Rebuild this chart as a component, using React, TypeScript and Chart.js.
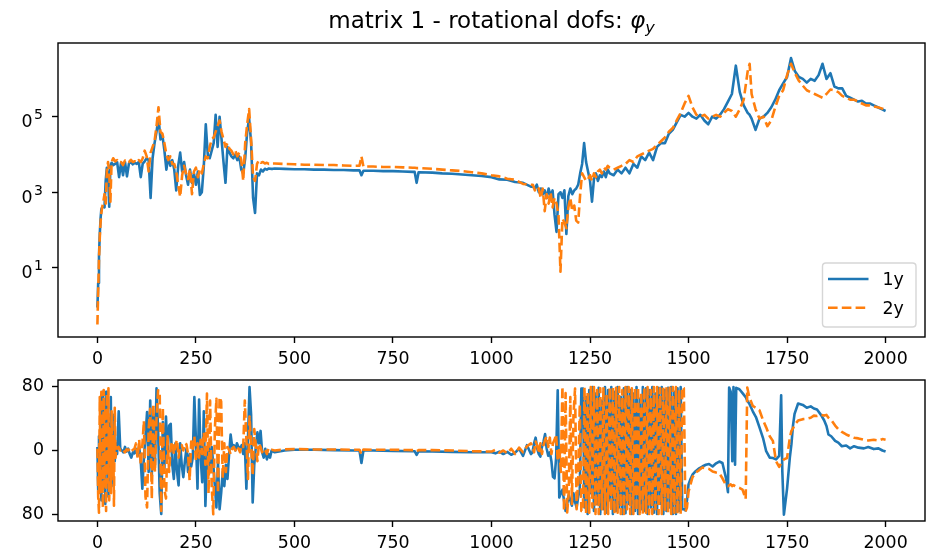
import React, { useEffect, useRef } from "react";
import { Chart, registerables } from "chart.js";

Chart.register(...registerables);

// ---------- styling constants ----------
const FONT_FAMILY = '"DejaVu Sans", "Liberation Sans", sans-serif';
const TICK_FONT = 17.4;
const SUP_FONT = 14;
const TITLE_FONT = 23;
const BLUE = "#1f77b4";
const ORANGE = "#ff7f0e";
const LINE_W = 2.6;
const DASH = [9.6, 4.2];

// ---------- labels / ticks ----------
const titleMain = "matrix 1 - rotational dofs: ";
const titleSymbol = "φ";
const titleSub = "y";
const seriesLabels = ["1y", "2y"];
const xTicks = [0, 250, 500, 750, 1000, 1250, 1500, 1750, 2000];
const xRange = [-100, 2100];
const magTickExps = [1, 3, 5];
const magRangeExp = [-0.83, 6.95];
const phaseTicks = [-180, 0, 180];
const phaseRange = [-198, 198];

// ---------- magnitude (values are log10 exponents) ----------
const magFreqA = [0, 2, 4, 6, 8, 10, 12, 15, 18, 21, 24, 27, 30, 33, 36, 40];
const mag1yA = [-0.05, 0.6, 1.3, 1.9, 2.3, 2.55, 2.6, 2.62, 2.6, 3.3, 3.65, 3.5, 2.62, 3.7, 3.78, 3.72];
const mag2yA = [-0.5, 0.4, 1.2, 1.8, 2.2, 2.45, 2.6, 2.75, 2.95, 2.7, 3.55, 3.8, 3.5, 2.75, 3.8, 3.9];

const magFreqB = [
  45, 50, 55, 60, 65, 70, 75, 80, 85, 90,
  95, 100, 105, 110, 115, 120, 125, 130, 135, 140,
  145, 150, 155, 160, 165, 170, 175, 180, 185, 190,
  195, 200, 205, 210, 215, 220, 225, 230, 235, 240,
  245, 250, 255, 260, 265, 270, 275, 280, 285, 290,
  295, 300, 305, 310, 315, 320, 325, 330, 335, 340,
  345, 350, 355, 360, 365, 370, 375, 380, 385, 390,
  395, 400, 405, 410, 415, 420, 425, 430, 435, 440,
  445, 450,
];
const mag1yB = [
  3.75, 3.8, 3.4, 3.78, 3.45, 3.8, 3.42, 3.76, 3.8, 3.74,
  3.78, 3.75, 3.8, 3.4, 3.76, 3.82, 3.9, 3.85, 2.85, 3.9,
  4.3, 4.6, 4.98, 4.4, 4.5, 4.1, 3.6, 3.95, 3.7, 3.85,
  3.6, 3.05, 3.7, 4.05, 3.55, 3.8, 3.45, 3.2, 3.6, 3.25,
  3.5, 3.2, 3.55, 2.93, 3.0, 3.7, 4.8, 4.0, 3.9, 4.1,
  4.3, 5.05, 4.2, 5.0, 4.4, 3.8, 3.25, 4.2, 4.05, 3.95,
  3.9, 4.0, 3.85, 3.95, 3.6, 3.5, 3.9, 4.6, 4.95, 4.3,
  2.85, 2.45, 3.5, 3.45, 3.6, 3.55, 3.62, 3.6, 3.63, 3.62,
  3.62, 3.63,
];
const mag2yB = [
  3.82, 3.85, 3.78, 3.8, 3.72, 3.84, 3.78, 3.8, 3.86, 3.8,
  3.82, 3.78, 3.85, 3.8, 3.9, 4.1, 3.95, 3.55, 4.05, 4.2,
  4.35, 4.75, 5.25, 4.6, 4.55, 4.3, 4.0, 3.85, 3.95, 3.75,
  3.75, 3.55, 3.2, 2.88, 3.45, 3.7, 3.5, 3.35, 3.6, 2.95,
  3.55, 3.65, 3.4, 3.6, 3.5, 3.75, 3.95, 3.9, 4.2, 4.4,
  4.45, 4.6, 4.75, 4.9, 4.6, 4.4, 4.2, 4.3, 4.15, 4.1,
  4.0, 4.1, 3.95, 4.05, 3.85, 3.3, 4.3, 4.8, 5.2, 4.4,
  3.4, 3.3, 3.75, 3.85, 3.78, 3.8, 3.76, 3.78, 3.75, 3.77,
  3.76, 3.76,
];

const magFreqC = [475, 500, 525, 550, 575, 600, 625, 650, 665, 670, 675, 700, 725, 750, 775, 800, 805, 810, 815, 850, 875, 900, 925, 950, 975, 1000, 1020, 1040, 1060, 1080, 1100];
const mag1yC = [3.62, 3.61, 3.61, 3.6, 3.6, 3.59, 3.59, 3.58, 3.58, 3.45, 3.57, 3.57, 3.56, 3.56, 3.55, 3.54, 3.54, 3.25, 3.53, 3.52, 3.5, 3.49, 3.47, 3.45, 3.43, 3.4, 3.34, 3.33, 3.27, 3.25, 3.15];
const mag2yC = [3.75, 3.74, 3.73, 3.73, 3.72, 3.72, 3.71, 3.7, 3.7, 3.95, 3.68, 3.68, 3.67, 3.67, 3.66, 3.65, 3.65, 3.64, 3.64, 3.62, 3.6, 3.58, 3.56, 3.53, 3.5, 3.45, 3.42, 3.36, 3.33, 3.22, 3.2];

const magFreqD = [
  1105, 1110, 1115, 1120, 1125, 1130, 1135, 1140, 1145, 1150,
  1155, 1160, 1165, 1170, 1175, 1180, 1185, 1190, 1195, 1200,
  1205, 1210, 1215, 1220, 1225, 1230, 1235, 1240, 1245, 1250,
  1255, 1260, 1265, 1270, 1275, 1280, 1285, 1290, 1295, 1300,
];
const mag1yD = [
  3.15, 3.1, 3.2, 3.0, 3.1, 2.95, 3.05, 2.85, 3.1, 2.9,
  3.05, 2.4, 1.95, 2.95, 3.0, 2.85, 3.05, 1.9, 2.9, 3.1,
  2.95, 3.05, 3.1, 3.2, 3.5, 3.75, 4.3, 3.8, 3.55, 3.3,
  2.75, 3.35, 3.5, 3.3, 3.45, 3.4, 3.55, 3.4, 3.6, 3.5,
];
const mag2yD = [
  3.2, 3.05, 3.15, 3.1, 2.85, 3.1, 2.5, 2.95, 2.7, 3.0,
  2.6, 2.85, 2.7, 2.4, 0.9, 2.3, 2.2, 2.05, 2.6, 2.85,
  2.5, 2.65, 2.25, 2.2, 2.95, 3.5, 3.4, 3.3, 3.35, 3.45,
  3.3, 3.5, 3.4, 3.55, 3.6, 3.5, 3.65, 3.6, 3.7, 3.65,
];

const magFreqE = [
  1310, 1320, 1330, 1340, 1350, 1360, 1370, 1380, 1390, 1400,
  1410, 1420, 1430, 1440, 1450, 1460, 1470, 1480, 1490, 1500,
  1510, 1520, 1530, 1540, 1550, 1560, 1570, 1580, 1590, 1600,
  1610, 1620, 1630, 1640, 1650, 1655,
  1660, 1670, 1680, 1690, 1700, 1710, 1720, 1730, 1740, 1750,
  1760, 1770, 1780, 1790, 1800, 1810, 1820, 1830, 1840, 1850,
  1860, 1870, 1880, 1890, 1900, 1910, 1920, 1930, 1940, 1950,
  1960, 1970, 1980, 1990, 2000,
];
const mag1yE = [
  3.45, 3.6, 3.5, 3.65, 3.5, 3.75, 3.65, 3.95, 3.85, 4.05,
  3.85, 4.2, 4.3, 4.3, 4.55, 4.65, 4.85, 5.05, 5.0, 5.1,
  5.0, 4.95, 5.05, 4.9, 4.8, 5.0, 4.95, 5.05, 5.2, 5.4,
  5.6, 6.35, 5.65, 5.3, 5.1, 5.05,
  4.95, 4.65, 4.95, 5.0, 5.1, 5.25, 5.45, 5.7, 5.88, 6.05,
  6.55, 6.2, 6.05, 6.0, 5.9, 6.0, 5.95, 6.1, 6.4, 6.0,
  6.15, 5.8, 5.75, 5.75, 5.55, 5.5, 5.45, 5.4, 5.42, 5.35,
  5.35, 5.3, 5.25, 5.2, 5.15,
];
const mag2yE = [
  3.6, 3.65, 3.7, 3.75, 3.85, 3.8, 3.95, 4.0, 4.05, 4.1,
  4.15, 4.25, 4.35, 4.45, 4.6, 4.7, 4.9, 5.1, 5.35, 5.55,
  5.25, 5.05, 5.0, 5.05, 4.95, 5.0, 5.05, 5.0, 5.1, 5.2,
  5.15, 5.0, 5.2, 5.45, 6.2, 6.4,
  5.6, 5.2, 4.95, 5.0, 4.75, 4.9, 5.25, 5.55, 5.7, 6.1,
  6.4, 6.15, 5.95, 5.82, 5.7, 5.65, 5.6, 5.55, 5.5, 5.6,
  5.72, 5.7, 5.65, 5.55, 5.5, 5.45, 5.45, 5.4, 5.35, 5.3,
  5.3, 5.27, 5.25, 5.22, 5.18,
];

// ---------- phase (degrees) ----------
const phaseFreqA = [0, 2, 4, 6, 8, 10, 12, 14, 16, 18, 20, 22, 24, 26, 28, 30, 32, 34, 36, 38, 40, 42, 44, 46, 48, 50];
const phase1yA = [10, -110, 40, -80, 150, -140, 60, 165, -90, 120, -150, 165, -60, 140, -130, 90, -40, 150, -100, 60, -20, 100, -30, 20, 0, -10];
const phase2yA = [5, -130, -175, 150, -120, 165, -60, -160, 170, -100, 120, -170, 160, -90, 175, -140, 60, -120, 110, -70, 40, -155, 120, -20, 10, 5];

const phaseFreqB = [
  54, 58, 62, 66, 70, 74, 78, 82, 86, 90,
  94, 98, 102, 106, 110, 114, 118, 122, 126, 130,
  134, 138, 142, 146, 150, 154, 158, 162, 166, 170,
  174, 178, 182, 186, 190, 194, 198, 202, 206, 210,
  214, 218, 222, 226, 230, 234, 238, 242, 246, 250,
  254, 258, 262, 266, 270, 274, 278, 282, 286, 290,
  294, 298, 302, 306, 310, 314, 318, 322, 326, 330,
  334, 338, 342, 346, 350, 354, 358, 362, 366, 370,
  374, 378, 382, 386, 390, 394, 398, 402, 406, 410,
  414, 418, 422, 426, 430, 434, 438, 442,
];
const phase1yB = [
  110, 5, 0, -5, 10, -3, 5, -10, -20, -5,
  -8, 5, -15, 10, -30, -107, -20, 40, 108, -60,
  140, -70, 100, -40, 175, 60, -120, -178, 80, -50,
  95, -20, 70, 75, -40, -80, 20, -59, -98, 20,
  -40, -75, -30, 5, -60, -10, -45, -20, 150, 30,
  -107, 143, -20, -89, 110, -156, -30, 20, -60, 10,
  -40, -100, -160, -30, -165, -120, -60, -100, -40, -80,
  -12, 45, 10, 15, 0, 20, 10, 5, 15, -10,
  20, -107, 30, 178, 100, -146, -40, 10, 51, 20,
  55, -5, -20, 5, -25, -10, -20, 0,
];
const phase2yB = [
  10, 0, 5, 0, -5, 3, 0, 5, -3, 2,
  5, 20, -20, 30, -40, 15, 83, -130, -160, 60,
  117, -136, 130, -60, 90, 169, 165, -170, 120, -110,
  -135, 40, -60, 10, 25, -10, 15, 30, -20, 10,
  15, 0, 20, 17, -10, -84, 25, 5, 40, -30,
  20, -20, 30, -10, 50, -40, 160, -120, 140, -100,
  -179, 60, 145, -120, 150, 138, -78, 20, -60, 10,
  2, -10, 5, 10, 0, 12, 5, -5, 15, 10,
  140, 30, -80, 95, 17, -70, 60, 14, -30, 20,
  10, -5, 5, 0, -10, 5, 0, 2,
];

const phaseFreqC = [450, 475, 500, 550, 600, 650, 665, 670, 675, 700, 750, 800, 805, 810, 815, 850, 900, 950, 1000, 1010, 1020, 1030, 1040, 1050, 1060, 1070, 1080, 1090, 1100];
const phase1yC = [-5, 0, 2, 2, 1, 0, 0, -35, 0, 0, -1, -2, -2, -12, -2, -3, -4, -5, -5, -8, -3, -10, -4, -12, -6, 5, -15, 15, -10];
const phase2yC = [0, 3, 4, 3, 3, 2, 2, -10, 3, 2, 2, 1, 1, -2, 1, 1, 0, -2, -3, 2, -6, 0, -8, 5, -10, 8, -5, 12, 20];

const phaseFreqD = [
  1104, 1108, 1112, 1116, 1120, 1124, 1128, 1132, 1136, 1140,
  1144, 1148, 1152, 1156, 1160, 1164, 1168, 1172, 1176, 1180,
  1184, 1188, 1192, 1196, 1200, 1204, 1208, 1212, 1216, 1220,
  1224, 1228,
];
const phase1yD = [
  -5, 20, 36, 5, -10, -17, 10, 25, 46, 5,
  -15, -5, -30, -74, -78, -20, 169, -132, -120, -110,
  -140, -170, -150, -125, -140, -155, -120, -145, -160, -130,
  -110, 174,
];
const phase2yD = [
  10, -5, 25, 15, -8, 20, -10, 15, 30, 40,
  10, 36, -10, 20, 30, 45, -30, 10, -60, 180,
  -170, 161, -174, -120, 150, -150, 100, 174, -165, -80,
  130, -170,
];

const phaseFreqE = [
  1232, 1236, 1240, 1244, 1248, 1252, 1256, 1260, 1264, 1268,
  1272, 1276, 1280, 1284, 1288, 1292, 1296, 1300, 1304, 1308,
  1312, 1316, 1320, 1324, 1328, 1332, 1336, 1340, 1344, 1348,
  1352, 1356, 1360, 1364, 1368, 1372, 1376, 1380, 1384, 1388,
  1392, 1396, 1400, 1404, 1408, 1412, 1416, 1420, 1424, 1428,
  1432, 1436, 1440, 1444, 1448, 1452, 1456, 1460, 1464, 1468,
  1472, 1476, 1480, 1484, 1488,
];
const phase1yE = [
  174, -160, 150, -178, 170, -120, 178, -170, 160, -150,
  176, -178, 140, -165, 178, -175, 170, -140, 178, -178,
  165, -170, 178, -160, 150, -178, 175, -176, 178, -150,
  170, -178, 160, -170, 178, -178, 145, -165, 178, -170,
  175, -178, 170, -160, 178, -175, 160, -178, 176, -150,
  178, -178, 170, -170, 176, -160, 178, -178, 165, -178,
  175, -170, 178, -165, -165,
];
const phase2yE = [
  -170, 178, -178, 165, -175, 178, -160, 178, -178, 170,
  -178, 175, -165, 178, -178, 160, -178, 178, -170, 178,
  -178, 176, -175, 178, -178, 170, -178, 178, -165, 178,
  -178, 175, -178, 178, -170, 178, -178, 165, -178, 178,
  -175, 178, -178, 170, -178, 178, -165, 178, -178, 175,
  -178, 178, -170, 178, -178, 176, -178, 178, -175, 178,
  -178, 170, -178, 178, 175,
];

const phaseFreqF = [
  1492, 1496, 1500, 1505, 1510, 1518, 1527, 1535, 1544, 1552,
  1561, 1570, 1578, 1586, 1595, 1600, 1603, 1607, 1611, 1614,
  1618, 1621, 1629, 1637, 1645, 1649, 1654, 1663, 1671, 1680,
  1689, 1697, 1706, 1714, 1722, 1730, 1735, 1738, 1742, 1750,
  1757, 1761, 1765, 1769, 1778, 1790, 1800, 1810, 1818, 1826,
  1836, 1844, 1850, 1855, 1862, 1872, 1880, 1889, 1900, 1910,
  1920, 1931, 1945, 1956, 1970, 1982, 1992, 2000,
];
const phase1yF = [
  -168, -140, -95, -80, -68, -58, -50, -45, -40, -38,
  -45, -36, -31, -35, -78, -117, 177, 165, -30, 178,
  -40, 176, 172, 161, 150, 140, 132, 110, 94, 65,
  35, -2, -20, -21, -25, -15, 155, -60, -180, -107,
  -20, 17, 70, 103, 132, 128, 120, 124, 118, 115,
  100, 85, 69, 45, 40, 27, 22, 12, 14, 6,
  12, 8, 6, 10, 4, 6, 0, -3,
];
const phase2yF = [
  -172, -160, -115, -95, -75, -62, -55, -48, -50, -52,
  -59, -62, -64, -78, -97, -100, -98, -95, -100, -97,
  -100, -102, -105, -110, -136, 177, 151, 125, 120, 113,
  85, 65, 40, 27, -30, -46, -35, -30, -25, -21,
  36, 55, 62, 72, 84, 88, 89, 92, 98, 97,
  100, 98, 100, 92, 86, 70, 60, 52, 45, 40,
  36, 34, 30, 28, 30, 28, 32, 30,
];

// ---------- assemble ----------
const magFreq = [...magFreqA, ...magFreqB, ...magFreqC, ...magFreqD, ...magFreqE];
const mag1y = [...mag1yA, ...mag1yB, ...mag1yC, ...mag1yD, ...mag1yE];
const mag2y = [...mag2yA, ...mag2yB, ...mag2yC, ...mag2yD, ...mag2yE];
const phaseFreq = [...phaseFreqA, ...phaseFreqB, ...phaseFreqC, ...phaseFreqD, ...phaseFreqE, ...phaseFreqF];
const phase1y = [...phase1yA, ...phase1yB, ...phase1yC, ...phase1yD, ...phase1yE, ...phase1yF];
const phase2y = [...phase2yA, ...phase2yB, ...phase2yC, ...phase2yD, ...phase2yE, ...phase2yF];

const toPoints = (xs: number[], ys: number[], f: (v: number) => number = (v) => v) =>
  xs.map((x, i) => ({ x, y: f(ys[i]) }));

// ---------- plugins ----------
const framePlugin = {
  id: "mplFrame",
  afterDatasetsDraw(chart: any) {
    const { ctx, chartArea: a } = chart;
    ctx.save();
    ctx.strokeStyle = "#000";
    ctx.lineWidth = 1.4;
    ctx.strokeRect(a.left, a.top, a.right - a.left, a.bottom - a.top);
    ctx.restore();
  },
};

// log-axis labels drawn as 10 with a raised, smaller exponent (like mathtext)
const logLabelPlugin = {
  id: "mplLogLabels",
  afterDraw(chart: any) {
    const { ctx } = chart;
    const s = chart.scales.y;
    const right = s.right - 15;
    ctx.save();
    ctx.fillStyle = "#000";
    ctx.textBaseline = "alphabetic";
    ctx.textAlign = "left";
    magTickExps.forEach((e) => {
      const y = s.getPixelForValue(Math.pow(10, e));
      const sup = String(e);
      ctx.font = `${SUP_FONT}px ${FONT_FAMILY}`;
      const ws = ctx.measureText(sup).width;
      ctx.font = `${TICK_FONT}px ${FONT_FAMILY}`;
      const wb = ctx.measureText("10").width;
      const xs = right - ws;
      const xb = xs - 1.5 - wb;
      const base = y + 10.5;
      ctx.fillText("10", xb, base);
      ctx.font = `${SUP_FONT}px ${FONT_FAMILY}`;
      ctx.fillText(sup, xs, base - 8);
    });
    ctx.restore();
  },
};

const titlePlugin = {
  id: "mplTitle",
  afterDraw(chart: any) {
    const { ctx, chartArea: a } = chart;
    ctx.save();
    const fMain = `${TITLE_FONT}px ${FONT_FAMILY}`;
    const fIt = `oblique ${TITLE_FONT}px ${FONT_FAMILY}`;
    const fSub = `oblique ${TITLE_FONT * 0.7}px ${FONT_FAMILY}`;
    ctx.font = fMain;
    const w1 = ctx.measureText(titleMain).width;
    ctx.font = fIt;
    const w2 = ctx.measureText(titleSymbol).width;
    ctx.font = fSub;
    const w3 = ctx.measureText(titleSub).width;
    const total = w1 + w2 + w3;
    let x = (a.left + a.right) / 2 - total / 2;
    const base = 28;
    ctx.fillStyle = "#000";
    ctx.textBaseline = "alphabetic";
    ctx.textAlign = "left";
    ctx.font = fMain;
    ctx.fillText(titleMain, x, base);
    x += w1;
    ctx.font = fIt;
    ctx.fillText(titleSymbol, x, base);
    x += w2;
    ctx.font = fSub;
    ctx.fillText(titleSub, x, base + 4.5);
    ctx.restore();
  },
};

const legendPlugin = {
  id: "mplLegend",
  afterDraw(chart: any) {
    const { ctx, chartArea: a } = chart;
    const right = a.right - 9;
    const bottom = a.bottom - 10;
    const w = 93.5;
    const h = 64;
    const left = right - w;
    const top = bottom - h;
    ctx.save();
    const r = 3.5;
    ctx.beginPath();
    ctx.moveTo(left + r, top);
    ctx.lineTo(right - r, top);
    ctx.quadraticCurveTo(right, top, right, top + r);
    ctx.lineTo(right, bottom - r);
    ctx.quadraticCurveTo(right, bottom, right - r, bottom);
    ctx.lineTo(left + r, bottom);
    ctx.quadraticCurveTo(left, bottom, left, bottom - r);
    ctx.lineTo(left, top + r);
    ctx.quadraticCurveTo(left, top, left + r, top);
    ctx.closePath();
    ctx.fillStyle = "rgba(255,255,255,0.8)";
    ctx.fill();
    ctx.strokeStyle = "rgba(204,204,204,0.8)";
    ctx.lineWidth = 1.4;
    ctx.stroke();

    const rows = [
      { y: top + 16, color: BLUE, dash: [] as number[], label: seriesLabels[0] },
      { y: top + 44.7, color: ORANGE, dash: DASH, label: seriesLabels[1] },
    ];
    const hx0 = left + 5.5;
    const hx1 = left + 46;
    rows.forEach((row) => {
      ctx.beginPath();
      ctx.setLineDash(row.dash);
      ctx.strokeStyle = row.color;
      ctx.lineWidth = LINE_W;
      ctx.moveTo(hx0, row.y);
      ctx.lineTo(hx1, row.y);
      ctx.stroke();
      ctx.setLineDash([]);
      ctx.fillStyle = "#000";
      ctx.font = `${TICK_FONT}px ${FONT_FAMILY}`;
      ctx.textAlign = "left";
      ctx.textBaseline = "alphabetic";
      ctx.fillText(row.label, left + 60, row.y + 6.3);
    });
    ctx.restore();
  },
};

// ---------- config helpers ----------
const tickGrid = {
  display: true,
  drawOnChartArea: false,
  drawTicks: true,
  tickLength: 6,
  tickWidth: 1.4,
  tickColor: "#000",
};

function xScale(height: number) {
  return {
    type: "linear",
    min: xRange[0],
    max: xRange[1],
    afterBuildTicks: (s: any) => {
      s.ticks = xTicks.map((v) => ({ value: v }));
    },
    afterFit: (s: any) => {
      s.height = height;
      s.paddingLeft = 0;
      s.paddingRight = 0;
    },
    grid: tickGrid,
    border: { display: false },
    ticks: {
      autoSkip: false,
      maxRotation: 0,
      padding: 6,
      color: "#000",
      font: { family: FONT_FAMILY, size: TICK_FONT },
      callback: (v: any) => String(v),
    },
  };
}

function lineDataset(label: string, data: any[], color: string, dashed: boolean, order: number) {
  return {
    label,
    data,
    borderColor: color,
    backgroundColor: color,
    borderWidth: LINE_W,
    borderDash: dashed ? DASH : [],
    borderJoinStyle: "round",
    borderCapStyle: "butt",
    pointRadius: 0,
    pointHoverRadius: 0,
    tension: 0,
    fill: false,
    order,
  };
}

const CANVAS_LEFT = 22;
const CANVAS_W = 930 - CANVAS_LEFT;
const AXIS_W = 58 - CANVAS_LEFT;
const TOP_H = 370;
const BOT_H = 183;

export default function App() {
  const topRef = useRef<HTMLCanvasElement>(null);
  const botRef = useRef<HTMLCanvasElement>(null);

  useEffect(() => {
    const top = new Chart(topRef.current as HTMLCanvasElement, {
      type: "line",
      data: {
        datasets: [
          lineDataset(seriesLabels[0], toPoints(magFreq, mag1y, (e) => Math.pow(10, e)), BLUE, false, 1),
          lineDataset(seriesLabels[1], toPoints(magFreq, mag2y, (e) => Math.pow(10, e)), ORANGE, true, 0),
        ] as any,
      },
      options: {
        animation: false,
        responsive: false,
        maintainAspectRatio: false,
        devicePixelRatio: 1,
        events: [],
        layout: { padding: { left: 0, right: 5, top: 43, bottom: 0 } },
        plugins: { legend: { display: false }, tooltip: { enabled: false }, title: { display: false } },
        scales: {
          x: xScale(TOP_H - 337) as any,
          y: {
            type: "logarithmic",
            min: Math.pow(10, magRangeExp[0]),
            max: Math.pow(10, magRangeExp[1]),
            afterBuildTicks: (s: any) => {
              s.ticks = magTickExps.map((e) => ({ value: Math.pow(10, e) }));
            },
            afterFit: (s: any) => {
              s.width = AXIS_W;
              s.paddingTop = 0;
              s.paddingBottom = 0;
            },
            grid: tickGrid,
            border: { display: false },
            ticks: { display: false },
          } as any,
        },
      },
      plugins: [framePlugin, logLabelPlugin, titlePlugin, legendPlugin],
    });

    const bot = new Chart(botRef.current as HTMLCanvasElement, {
      type: "line",
      data: {
        datasets: [
          lineDataset(seriesLabels[0], toPoints(phaseFreq, phase1y), BLUE, false, 1),
          lineDataset(seriesLabels[1], toPoints(phaseFreq, phase2y), ORANGE, true, 0),
        ] as any,
      },
      options: {
        animation: false,
        responsive: false,
        maintainAspectRatio: false,
        devicePixelRatio: 1,
        events: [],
        layout: { padding: { left: 0, right: 5, top: 10, bottom: 0 } },
        plugins: { legend: { display: false }, tooltip: { enabled: false }, title: { display: false } },
        scales: {
          x: xScale(BOT_H - 151) as any,
          y: {
            type: "linear",
            min: phaseRange[0],
            max: phaseRange[1],
            afterBuildTicks: (s: any) => {
              s.ticks = phaseTicks.map((v) => ({ value: v }));
            },
            afterFit: (s: any) => {
              s.width = AXIS_W;
              s.paddingTop = 0;
              s.paddingBottom = 0;
            },
            grid: tickGrid,
            border: { display: false },
            ticks: {
              padding: 8,
              color: "#000",
              font: { family: FONT_FAMILY, size: TICK_FONT },
              callback: (v: any) => (Number(v) < 0 ? "\u2212" + Math.abs(Number(v)) : String(v)),
            },
          } as any,
        },
      },
      plugins: [framePlugin],
    });

    return () => {
      top.destroy();
      bot.destroy();
    };
  }, []);

  return (
    <div
      style={{
        position: "absolute",
        left: 0,
        top: 0,
        width: 930,
        height: 553,
        background: "#fff",
        overflow: "hidden",
      }}
    >
      <canvas
        ref={topRef}
        width={CANVAS_W}
        height={TOP_H}
        style={{ position: "absolute", left: CANVAS_LEFT, top: 0, width: CANVAS_W, height: TOP_H }}
      />
      <canvas
        ref={botRef}
        width={CANVAS_W}
        height={BOT_H}
        style={{ position: "absolute", left: CANVAS_LEFT, top: 370, width: CANVAS_W, height: BOT_H }}
      />
    </div>
  );
}
